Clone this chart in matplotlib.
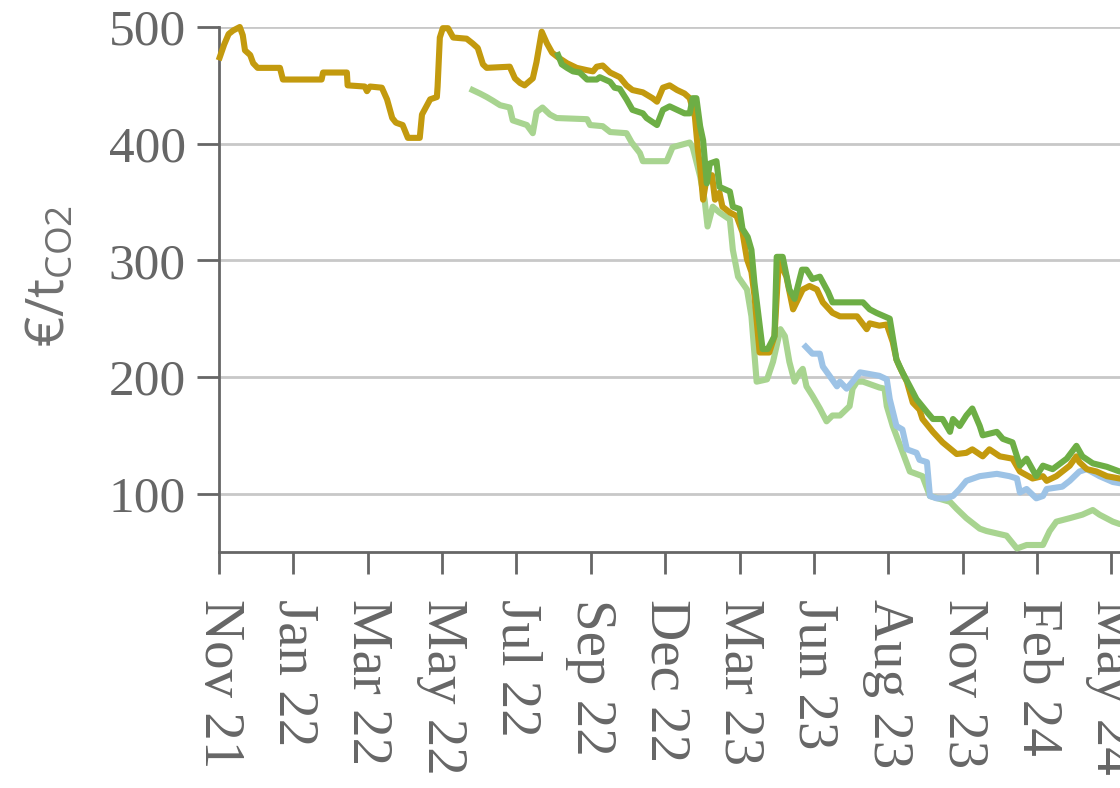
import numpy as np
import matplotlib
matplotlib.use("Agg")
import matplotlib.pyplot as plt

# x positions are in "tick units": 0 = Nov 21, 1 = Jan 22, ... (ticks evenly spaced)
tick_labels = ["Nov 21", "Jan 22", "Mar 22", "May 22", "Jul 22", "Sep 22", "Dec 22",
               "Mar 23", "Jun 23", "Aug 23", "Nov 23", "Feb 24", "May 24"]

gold_t = [0.01, 0.07, 0.13, 0.19, 0.28, 0.32, 0.35, 0.42, 0.46, 0.52, 0.82, 0.86, 1.38, 1.40,
          1.72, 1.73, 1.96, 1.99, 2.03, 2.19, 2.26, 2.33, 2.38, 2.47, 2.54, 2.70, 2.73, 2.84,
          2.93, 2.94, 2.97, 3.01, 3.08, 3.15, 3.33, 3.41, 3.48, 3.55, 3.60, 3.91, 3.98, 4.05,
          4.11, 4.22, 4.27, 4.34, 4.41, 4.48, 4.56, 4.68, 4.81, 4.95, 5.03, 5.08, 5.16, 5.26,
          5.39, 5.48, 5.56, 5.70, 5.83, 5.89, 5.97, 6.06, 6.16, 6.26, 6.33, 6.40, 6.44, 6.47,
          6.51, 6.56, 6.63, 6.67, 6.73, 6.77, 6.87, 6.96, 7.04, 7.10, 7.16, 7.20, 7.27, 7.40,
          7.47, 7.51, 7.53, 7.63, 7.72, 7.85, 7.94, 8.04, 8.12, 8.25, 8.35, 8.58, 8.64, 8.71,
          8.75, 8.88, 8.98, 9.06, 9.11, 9.15, 9.25, 9.33, 9.42, 9.46, 9.60, 9.73, 9.92, 10.05,
          10.13, 10.27, 10.36, 10.50, 10.67, 10.77, 10.94, 11.08, 11.13, 11.26, 11.44, 11.53,
          11.57, 11.67, 11.80, 11.94, 12.11, 12.5]
gold_v = [474, 485, 494, 497, 500, 493, 480, 476, 469, 465, 465, 455, 455, 461,
          461, 450, 449, 445, 449, 448, 438, 422, 418, 416, 405, 405, 425, 438,
          440, 449, 491, 499, 499, 491, 490, 486, 482, 468, 465, 466, 456, 452,
          450, 456, 470, 496, 486, 478, 474, 469, 465, 463, 462, 466, 467, 461,
          457, 450, 446, 444, 439, 436, 448, 450, 446, 443, 439, 423, 395, 380,
          352, 372, 373, 352, 358, 346, 341, 338, 324, 301, 290, 270, 221, 221,
          235, 280, 300, 286, 258, 275, 278, 275, 264, 255, 252, 252, 247, 241,
          246, 244, 245, 230, 215, 209, 196, 178, 172, 164, 153, 144, 134, 135,
          138, 132, 138, 132, 130, 119, 113, 115, 111, 115, 124, 132,
          127, 121, 119, 115, 113, 112]

green_t = [4.56, 4.61, 4.68, 4.76, 4.85, 4.95, 5.08, 5.12, 5.26, 5.32, 5.39, 5.48, 5.56, 5.70,
           5.75, 5.89, 5.97, 6.06, 6.16, 6.26, 6.33, 6.37, 6.42, 6.47, 6.51, 6.56, 6.60, 6.69,
           6.73, 6.87, 6.91, 7.00, 7.04, 7.11, 7.16, 7.20, 7.31, 7.38, 7.47, 7.50, 7.58, 7.67,
           7.74, 7.84, 7.90, 7.98, 8.08, 8.19, 8.25, 8.66, 8.75, 8.84, 9.02, 9.11, 9.19, 9.29,
           9.38, 9.52, 9.60, 9.73, 9.83, 9.87, 9.96, 10.05, 10.13, 10.23, 10.27, 10.46, 10.54,
           10.67, 10.77, 10.86, 10.99, 11.08, 11.21, 11.40, 11.53, 11.61, 11.75, 11.94, 12.11, 12.5]
green_v = [476, 468, 465, 462, 461, 455, 455, 457, 453, 448, 447, 438, 429, 426,
           422, 416, 429, 432, 429, 426, 426, 439, 439, 415, 403, 366, 383, 385,
           363, 359, 346, 344, 327, 320, 309, 281, 224, 224, 235, 303, 303, 275,
           267, 292, 292, 284, 286, 273, 264, 264, 258, 255, 250, 215, 204, 192,
           181, 170, 164, 164, 153, 164, 158, 167, 173, 158, 150, 153, 147,
           144, 124, 130, 115, 124, 121, 130, 141, 132, 126, 123, 119, 117]

light_green_t = [3.41, 3.51, 3.60, 3.68, 3.78, 3.91, 3.95, 4.14, 4.22, 4.27, 4.35, 4.45, 4.54,
                 4.95, 4.99, 5.16, 5.26, 5.48, 5.55, 5.66, 5.70, 6.02, 6.10, 6.33, 6.37, 6.47,
                 6.53, 6.57, 6.64, 6.73, 6.87, 6.91, 6.98, 7.10, 7.16, 7.23, 7.37, 7.45, 7.55,
                 7.61, 7.67, 7.74, 7.81, 7.85, 7.90, 7.98, 8.08, 8.17, 8.25, 8.35, 8.48, 8.52,
                 8.58, 8.66, 8.88, 8.95, 8.98, 9.06, 9.19, 9.29, 9.46, 9.56, 9.83, 9.92, 10.05,
                 10.23, 10.32, 10.59, 10.73, 10.86, 11.08, 11.17, 11.26, 11.44, 11.61, 11.75,
                 11.84, 12.02, 12.11, 12.5]
light_green_v = [446, 443, 440, 437, 433, 431, 420, 416, 409, 427, 431, 425, 422,
                 421, 416, 415, 410, 409, 401, 392, 385, 385, 397, 401, 397, 372,
                 352, 329, 346, 341, 335, 309, 286, 275, 252, 196, 198, 213, 241,
                 235, 213, 196, 204, 207, 192, 184, 173, 162, 167, 167, 175, 190,
                 196, 196, 191, 190, 175, 158, 136, 119, 115, 98, 93, 87, 79,
                 70, 68, 64, 53, 56, 56, 68, 76, 79, 82, 86,
                 82, 76, 74, 72]

blue_t = [7.89, 7.98, 8.08, 8.12, 8.21, 8.31, 8.35, 8.44, 8.52, 8.62, 8.88, 8.98, 9.02, 9.11,
          9.19, 9.25, 9.38, 9.42, 9.52, 9.56, 9.65, 9.78, 9.87, 9.96, 10.05, 10.23, 10.46,
          10.63, 10.73, 10.77, 10.86, 10.99, 11.08, 11.13, 11.34, 11.44, 11.57, 11.67, 11.84,
          12.02, 12.11, 12.5]
blue_v = [226, 220, 220, 209, 201, 192, 196, 190, 196, 204, 201, 198, 181, 158,
          155, 138, 135, 129, 127, 98, 96, 96, 98, 104, 111, 115, 117,
          115, 113, 101, 104, 96, 98, 104, 106, 111, 119, 121, 115,
          110, 109, 108]

c_gold = "#C39A0E"
c_green = "#6DAE45"
c_light_green = "#A8D490"
c_blue = "#9DC3E6"
c_axis = "#666666"

fig = plt.figure(figsize=(11.2, 7.88), dpi=100)
ax = fig.add_axes([0.1955, 0.2995, 0.83, 0.6662])

lw = 4.4
for t, v, c, z in [(light_green_t, light_green_v, c_light_green, 3),
                   (blue_t, blue_v, c_blue, 4),
                   (gold_t, gold_v, c_gold, 5),
                   (green_t, green_v, c_green, 6)]:
    ax.plot(t, v, color=c, lw=lw, zorder=z, clip_on=False, solid_joinstyle="round")

ax.set_xlim(0, 12.5)
ax.set_ylim(50, 500)
ax.set_yticks([100, 200, 300, 400, 500])
ax.set_xticks(range(len(tick_labels)))
ax.set_xticklabels(tick_labels, rotation=270, family="Liberation Serif", fontsize=41, color=c_axis)
ax.set_yticklabels(["100", "200", "300", "400", "500"], family="Liberation Serif",
                   fontsize=37, color=c_axis)
ax.tick_params(axis="x", length=16, width=2, color=c_axis, pad=18)
ax.tick_params(axis="y", length=16, width=2, color=c_axis, pad=8)

ax.yaxis.grid(True, color="#C8C8C8", lw=2)
ax.set_axisbelow(True)
for s in ["top", "right"]:
    ax.spines[s].set_visible(False)
for s in ["left", "bottom"]:
    ax.spines[s].set_color(c_axis)
    ax.spines[s].set_linewidth(2)

ax.set_ylabel(r"€/t$_{\mathregular{CO2}}$", family="Open Sans", fontsize=38, color="#707070")
ax.yaxis.set_label_coords(-0.152, 0.525)

fig.savefig("out.png", dpi=100)
